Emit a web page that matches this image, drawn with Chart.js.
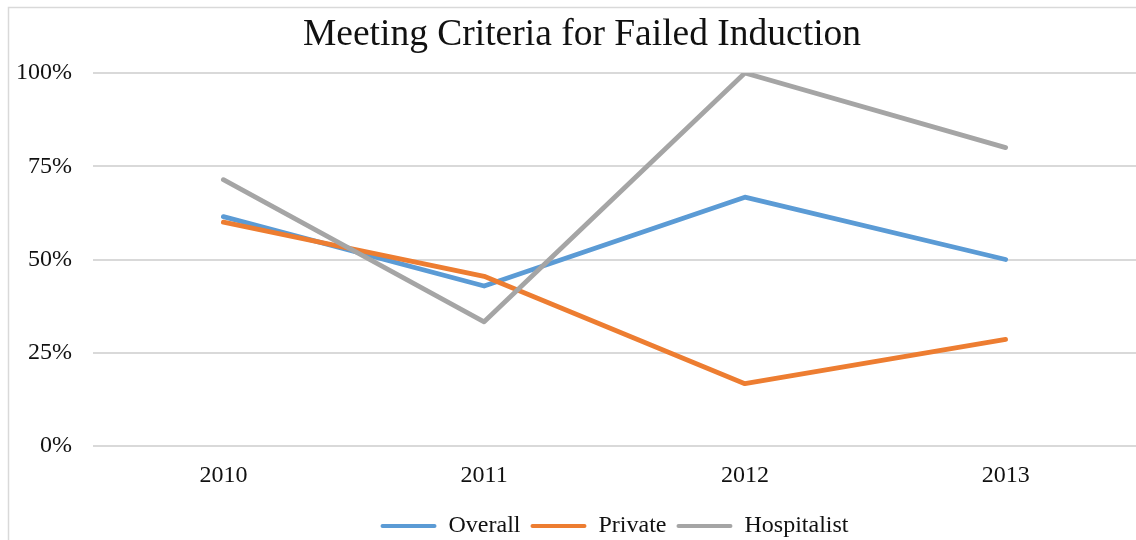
<!DOCTYPE html>
<html>
<head>
<meta charset="utf-8">
<script src="https://cdn.jsdelivr.net/npm/chart.js@4"></script>
<style>
  html, body { margin: 0; padding: 0; overflow: hidden; background: #fff; }
  #wrap { width: 1164px; height: 540px; }
</style>
</head>
<body>
<div id="wrap"><canvas id="myChart" width="1164" height="540"></canvas></div>
<script>
// Chart data
const years = ['2010', '2011', '2012', '2013'];
const overall = [61.5, 42.9, 66.7, 50];
const privateGroup = [60, 45.5, 16.7, 28.6];
const hospitalist = [71.4, 33.3, 100, 80];
const yTicks = [0, 25, 50, 75, 100];

const serif = '"Liberation Serif", "Times New Roman", serif';

// light frame round the chart like the original
const framePlugin = {
  id: 'frame',
  beforeDraw(chart) {
    const c = chart.ctx;
    c.save();
    c.strokeStyle = '#d9d9d9';
    c.lineWidth = 1.5;
    c.beginPath();
    c.moveTo(8.5, 540);
    c.lineTo(8.5, 7.5);
    c.lineTo(chart.width, 7.5);
    c.stroke();
    c.restore();
  }
};

const ctx = document.getElementById('myChart').getContext('2d');

const makeDataset = (label, data, color, order) => ({
  label: label,
  data: data,
  borderColor: color,
  backgroundColor: color,
  borderWidth: 4.8,
  borderCapStyle: 'round',
  borderJoinStyle: 'round',
  pointRadius: 0,
  pointHoverRadius: 0,
  tension: 0,
  fill: false,
  order: order
});

const chart = new Chart(ctx, {
  type: 'line',
  data: {
    labels: years,
    datasets: [
      makeDataset('Overall', overall, '#5b9bd5', 2),
      makeDataset('Private', privateGroup, '#ed7d31', 1),
      makeDataset('Hospitalist', hospitalist, '#a5a5a5', 0)
    ]
  },
  options: {
    responsive: false,
    animation: false,
    layout: { padding: { left: 0, right: 0, top: 0, bottom: -8 } },
    scales: {
      x: {
        offset: true,
        grid: { display: false, drawTicks: false },
        border: { display: false },
        ticks: { color: '#111', font: { family: serif, size: 24 }, padding: 15 },
        afterFit: s => { s.height = 58; }
      },
      y: {
        min: 0,
        max: 100,
        afterBuildTicks: s => { s.ticks = yTicks.map(v => ({ value: v })); },
        grid: { color: '#d9d9d9', lineWidth: 2, drawTicks: false },
        border: { display: false },
        ticks: {
          color: '#111',
          font: { family: serif, size: 24 },
          padding: 21,
          callback: v => v + '%'
        },
        afterFit: s => { s.width = 93; }
      },
      // empty space on the right, off the visible page, so the title sits where it did
      spacer: {
        position: 'right',
        grid: { display: false },
        border: { display: false },
        ticks: { display: false },
        afterFit: s => { s.width = 28; }
      }
    },
    plugins: {
      title: {
        display: true,
        text: 'Meeting Criteria for Failed Induction',
        color: '#111',
        font: { family: serif, size: 37.5, weight: 'normal' },
        padding: { top: 13, bottom: 15 }
      },
      legend: {
        position: 'bottom',
        fullSize: false,
        labels: {
          color: '#111',
          font: { family: serif, size: 24 },
          boxWidth: 56,
          boxHeight: 4,
          padding: 10,
          generateLabels: c => Chart.defaults.plugins.legend.labels.generateLabels(c)
            .map(l => ({ ...l, lineWidth: 0, borderRadius: 2 })),
          sort: (a, b) => a.datasetIndex - b.datasetIndex
        }
      },
      tooltip: { enabled: false }
    }
  },
  plugins: [framePlugin]
});
</script>
</body>
</html>
